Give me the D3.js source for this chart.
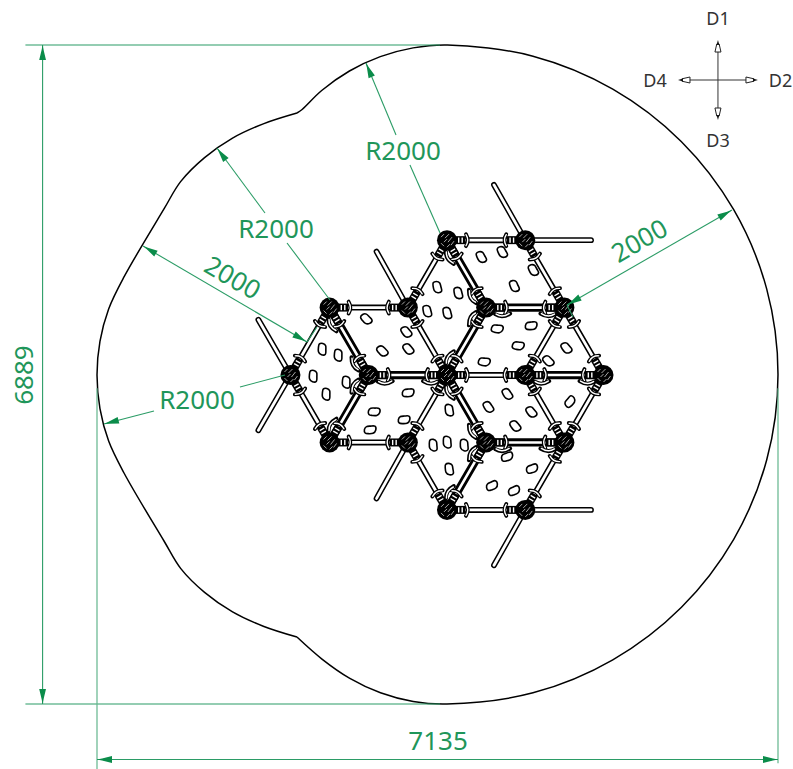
<!DOCTYPE html>
<html>
<head>
<meta charset="utf-8">
<script src="https://cdnjs.cloudflare.com/ajax/libs/d3/7.8.5/d3.min.js"></script>
<style>
html, body { margin: 0; padding: 0; background: #fff; overflow: hidden; }
svg { display: block; }
text { font-family: "Noto Sans", sans-serif; }
</style>
</head>
<body>
<svg id="plan" width="793" height="769"></svg>
<script>
// everything below is in mm on the plan
var planWidth = 7135;
var planHeight = 6889;

// safety zone outline, split at the two notches on the left
var outlineRight = [[2095, 6178], [2149, 6215], [2354, 6413], [2645, 6617], [2968, 6767], [3312, 6859], [3672, 6889],
    [4568, 6772], [5404, 6428], [6121, 5881], [6671, 5167], [7017, 4337], [7135, 3445], [7017, 2553], [6671, 1722],
    [6121, 1009], [5404, 462], [4568, 117], [3667, 0], [3313, 26], [2970, 117], [2649, 268], [2357, 470], [2095, 700]];
var outlineLeft = [[2095, 700], [1742, 813], [1420, 963], [1127, 1167], [876, 1418], [702, 1704], [283, 2415],
    [122, 2749], [31, 3089], [0, 3439], [31, 3790], [122, 4129], [283, 4464], [702, 5175], [876, 5461], [1127, 5712],
    [1420, 5916], [1742, 6065], [2095, 6178]];

// triangular lattice of the climbing frame
var latticeCentre = [3667, 3439];
var colMm = 410;
var rowMm = 705;

var nodes = [[0, 2], [2, 2], [-3, 1], [-1, 1], [1, 1], [3, 1], [-4, 0], [-2, 0], [0, 0], [2, 0], [4, 0],
    [-3, -1], [-1, -1], [1, -1], [3, -1], [0, -2], [2, -2]];
var thinBars = [[0, 2, 2, 2], [-3, 1, -1, 1], [0, 0, 2, 0], [-3, -1, -1, -1], [0, -2, 2, -2],
    [0, 2, -1, 1], [2, 2, 3, 1], [3, 1, 2, 0], [3, 1, 4, 0], [-1, 1, 0, 0], [-3, 1, -4, 0], [-4, 0, -3, -1],
    [0, 0, -1, -1], [2, 0, 3, -1], [4, 0, 3, -1], [3, -1, 2, -2], [-1, -1, 0, -2]];
var thickBars = [[1, 1, 3, 1], [-2, 0, 0, 0], [2, 0, 4, 0], [1, -1, 3, -1],
    [0, 2, 1, 1], [1, 1, 0, 0], [-3, 1, -2, 0], [-2, 0, -3, -1], [0, 0, 1, -1], [1, -1, 0, -2]];
// free ropes: start node, then end in lattice units
var rods = [[2, 2, 3.68, 2], [2, 2, 1.2, 2.82], [-1, 1, -1.8, 1.83], [-4, 0, -4.82, 0.82], [-4, 0, -4.82, -0.82],
    [-1, -1, -1.8, -1.83], [2, -2, 3.68, -2], [2, -2, 1.2, -2.82]];

// climbing holds: x, y, turn in degrees
var holds = [[4243, 4725, 60], [4023, 4673, 60], [4568, 4537, 60], [4369, 4370, 65],
    [3562, 4359, 75], [3782, 4297, 75], [3457, 4108, 75], [3667, 4088, 75],
    [2818, 4025, 45], [3237, 3889, 50], [2986, 3690, 45], [3258, 3711, 50],
    [2357, 3711, 90], [2525, 3648, 90], [2263, 3429, 90], [2609, 3366, 90], [2399, 3241, 90],
    [4547, 3952, -5], [4191, 3920, 5], [4411, 3743, 5], [4914, 3722, 50], [4725, 3586, 45], [4055, 3575, 5],
    [3258, 3251, -5], [2902, 3053, 0], [3216, 2969, -5], [2860, 2864, -5],
    [4296, 3241, 55], [4097, 3105, 55], [4547, 3053, 50], [4379, 2906, 50], [4956, 3157, -50], [3688, 3073, 80],
    [3520, 2708, 85], [3667, 2739, 85], [3845, 2708, 85], [3688, 2457, 80],
    [4296, 2582, -20], [4557, 2457, -20], [4138, 2279, -25], [4369, 2227, -25]];

// dimension lines: x1, y1, x2, y2, arrow at start, arrow at end
var dimLines = [
    [2818, 6701, 3133, 5948, 1, 0], [3279, 5635, 3594, 4924, 0, 0],
    [1257, 5812, 1760, 5133, 1, 0], [1991, 4819, 2441, 4223, 0, 0],
    [73, 2927, 597, 3063, 1, 0], [1498, 3314, 1970, 3439, 0, 0],
    [482, 4788, 2200, 3784, 1, 1], [4924, 4171, 6653, 5164, 1, 1],
    [2200, 3784, 2305, 3941, 0, 0], [4924, 4171, 4987, 4046, 0, 0],
    [-570, 0, -570, 6889, 1, 1], [0, -580, 7135, -580, 1, 1]];
// extension lines: x1, y1, x2, y2
var extLines = [[-750, 6889, 3594, 6889], [-750, 0, 3594, 0], [0, 3300, 0, -680], [7135, 3300, 7135, -620]];

var dimLabels = ["R2000", "R2000", "R2000", "2000", "2000", "7135", "6889"];
var dimLabelX = [3206, 1875, 1048, 1425, 5679, 3573, -775];
var dimLabelY = [5792, 4976, 3188, 4464, 4851, -376, 3439];
var dimLabelTurn = [0, 0, 0, 30, -30, 0, -90];

// compass
var compassCentre = [6506, 6523];
var compassArm = 419;
var compassLabels = ["D1", "D2", "D3", "D4"];
var compassLabelDist = [650, 655, 630, 660];

var x = d3.scaleLinear().domain([0, planWidth]).range([97, 778]);
var y = d3.scaleLinear().domain([0, planHeight]).range([704, 45]);

function latX(c) { return x(latticeCentre[0] + c * colMm); }
function latY(r) { return y(latticeCentre[1] + r * rowMm); }

var dimGreen = "#2b9c66";
var arrowGreen = "#0b8c4a";
var textGreen = "#1f965a";

var svg = d3.select("#plan");

var planLine = d3.line()
    .x(function (d) { return x(d[0]); })
    .y(function (d) { return y(d[1]); })
    .curve(d3.curveCatmullRom.alpha(0.5));

svg.selectAll("path.outline")
    .data([outlineRight, outlineLeft])
    .enter()
    .append("path")
    .attr("class", "outline")
    .attr("d", planLine)
    .attr("fill", "none")
    .attr("stroke", "#000")
    .attr("stroke-width", 1.5);

// rods behind the frame
var frame = svg.append("g");

function drawTube(sel, data, outer, inner) {
    sel.selectAll(null).data(data).enter().append("line")
        .attr("x1", function (d) { return latX(d[0]); })
        .attr("y1", function (d) { return latY(d[1]); })
        .attr("x2", function (d) { return latX(d[2]); })
        .attr("y2", function (d) { return latY(d[3]); })
        .attr("stroke", "#000")
        .attr("stroke-linecap", "round")
        .attr("stroke-width", outer);
    sel.selectAll(null).data(data).enter().append("line")
        .attr("x1", function (d) { return latX(d[0]); })
        .attr("y1", function (d) { return latY(d[1]); })
        .attr("x2", function (d) { return latX(d[2]); })
        .attr("y2", function (d) { return latY(d[3]); })
        .attr("stroke", "#fff")
        .attr("stroke-linecap", "round")
        .attr("stroke-width", inner);
}

drawTube(frame, rods, 5.8, 2.8);
drawTube(frame, thinBars, 6, 2.8);
drawTube(frame, thickBars, 8.2, 2.6);

// clamps at both bar ends, drawn along +x from the node
function barEnds(bars) {
    var ends = [];
    bars.forEach(function (b) {
        var ax = latX(b[0]), ay = latY(b[1]), bx = latX(b[2]), by = latY(b[3]);
        var a = Math.atan2(by - ay, bx - ax) * 180 / Math.PI;
        ends.push({ x: ax, y: ay, a: a, flip: 1 });
        ends.push({ x: bx, y: by, a: a + 180, flip: -1 });
    });
    return ends;
}

function drawClamps(data, hooked) {
    var g = frame.selectAll(null).data(data).enter().append("g")
        .attr("transform", function (d) { return "translate(" + d.x + "," + d.y + ") rotate(" + d.a + ")"; });
    g.append("rect").attr("x", 8).attr("y", -4).attr("width", 10.5).attr("height", 8).attr("fill", "#000");
    g.append("rect").attr("x", 11).attr("y", -2.6).attr("width", 1.4).attr("height", 5.2).attr("fill", "#fff");
    g.append("rect").attr("x", 14.5).attr("y", -2.6).attr("width", 1.4).attr("height", 5.2).attr("fill", "#fff");
    g.append("path").attr("d", "M19,-6 Q22.5,0 19,6")
        .attr("fill", "none").attr("stroke", "#000").attr("stroke-width", 3.8).attr("stroke-linecap", "round");
    g.append("path").attr("d", "M19,-5.5 Q22.5,0 19,5.5")
        .attr("fill", "none").attr("stroke", "#fff").attr("stroke-width", 1.4).attr("stroke-linecap", "round");
    if (hooked) {
        g.append("path")
            .attr("d", function (d) { return "M9," + 6.5 * d.flip + " Q16," + 11 * d.flip + " 24," + 6 * d.flip; })
            .attr("fill", "none").attr("stroke", "#000").attr("stroke-width", 4).attr("stroke-linecap", "round");
        g.append("path")
            .attr("d", function (d) { return "M10," + 6.5 * d.flip + " Q16," + 10.5 * d.flip + " 23," + 6 * d.flip; })
            .attr("fill", "none").attr("stroke", "#fff").attr("stroke-width", 1.5).attr("stroke-linecap", "round");
    }
}

drawClamps(barEnds(thinBars), false);
drawClamps(barEnds(thickBars), true);

// ball joints
var nodeG = frame.selectAll(null).data(nodes).enter().append("g")
    .attr("transform", function (d) { return "translate(" + latX(d[0]) + "," + latY(d[1]) + ")"; });
nodeG.append("circle").attr("r", 10).attr("fill", "#000");
[[-6, -3, -3, -6], [-2, -2, 2, -6], [1, 2, 5, -3], [-6, 3, -3, 6], [0, 7, 3, 4], [-3, 2, 0, -1], [4, 5, 7, 1]].forEach(function (m) {
    nodeG.append("line")
        .attr("x1", m[0]).attr("y1", m[1]).attr("x2", m[2]).attr("y2", m[3])
        .attr("stroke", "#bbb").attr("stroke-width", 0.9);
});

// holds
var blob = d3.line().curve(d3.curveBasisClosed)(
    [[-6, -1], [-3.5, -4.4], [1, -3.6], [6, -4.4], [6.4, 0.8], [3, 4.2], [-2, 3.4], [-5.6, 3.2]]);
svg.selectAll("path.hold")
    .data(holds)
    .enter()
    .append("path")
    .attr("class", "hold")
    .attr("d", blob)
    .attr("transform", function (d) { return "translate(" + x(d[0]) + "," + y(d[1]) + ") rotate(" + d[2] + ")"; })
    .attr("fill", "#fff")
    .attr("stroke", "#000")
    .attr("stroke-width", 1.6);

// dimensions
svg.selectAll("line.ext")
    .data(extLines)
    .enter()
    .append("line")
    .attr("class", "ext")
    .attr("x1", function (d) { return x(d[0]); })
    .attr("y1", function (d) { return y(d[1]); })
    .attr("x2", function (d) { return x(d[2]); })
    .attr("y2", function (d) { return y(d[3]); })
    .attr("stroke", function (d, i) { return i < 2 ? dimGreen : "#62b58c"; })
    .attr("stroke-width", 1.2);

svg.selectAll("line.dim")
    .data(dimLines)
    .enter()
    .append("line")
    .attr("class", "dim")
    .attr("x1", function (d) { return x(d[0]); })
    .attr("y1", function (d) { return y(d[1]); })
    .attr("x2", function (d) { return x(d[2]); })
    .attr("y2", function (d) { return y(d[3]); })
    .attr("stroke", dimGreen)
    .attr("stroke-width", 1.1);

var arrowPath = d3.line()([[0, 0], [5, -1], [15, -3.4], [15, 3.4], [5, 1]]) + "Z";
var arrowTips = [];
dimLines.forEach(function (d) {
    var ax = x(d[0]), ay = y(d[1]), bx = x(d[2]), by = y(d[3]);
    var a = Math.atan2(by - ay, bx - ax) * 180 / Math.PI;
    if (d[4]) arrowTips.push({ x: ax, y: ay, a: a });
    if (d[5]) arrowTips.push({ x: bx, y: by, a: a + 180 });
});
svg.selectAll("path.arrow")
    .data(arrowTips)
    .enter()
    .append("path")
    .attr("class", "arrow")
    .attr("d", arrowPath)
    .attr("transform", function (d) { return "translate(" + d.x + "," + d.y + ") rotate(" + d.a + ")"; })
    .attr("fill", arrowGreen);

svg.selectAll("text.dim")
    .data(dimLabels)
    .enter()
    .append("text")
    .attr("class", "dim")
    .attr("text-anchor", "middle")
    .attr("dominant-baseline", "central")
    .attr("font-size", 26)
    .attr("fill", textGreen)
    .attr("transform", function (d, i) {
        return "translate(" + x(dimLabelX[i]) + "," + y(dimLabelY[i]) + ") rotate(" + dimLabelTurn[i] + ")";
    })
    .text(function (d) { return d; });

// compass: D1 up, then clockwise
var compass = svg.append("g")
    .attr("transform", "translate(" + x(compassCentre[0]) + "," + y(compassCentre[1]) + ")");
var armLen = x(compassArm) - x(0);
var hollowHead = d3.line()([[armLen - 4, -1.2], [armLen - 12, -3], [armLen - 12, 3], [armLen - 4, 1.2]]) + "Z";
var darkTip = d3.line()([[armLen, 0], [armLen - 5, -1.4], [armLen - 5, 1.4]]) + "Z";
var arms = compass.selectAll("g")
    .data(compassLabels)
    .enter()
    .append("g");
arms.attr("transform", function (d, i) { return "rotate(" + (i * 90 - 90) + ")"; });
arms.append("line")
    .attr("x2", armLen - 5)
    .attr("stroke", "#333")
    .attr("stroke-width", 1);
arms.append("path")
    .attr("d", hollowHead)
    .attr("fill", "#fff")
    .attr("stroke", "#222")
    .attr("stroke-width", 1);
arms.append("path")
    .attr("d", darkTip)
    .attr("fill", "#111");
compass.selectAll("text")
    .data(compassLabels)
    .enter()
    .append("text")
    .attr("x", function (d, i) { return Math.sin(i * Math.PI / 2) * (x(compassLabelDist[i]) - x(0)); })
    .attr("y", function (d, i) { return -Math.cos(i * Math.PI / 2) * (x(compassLabelDist[i]) - x(0)); })
    .attr("text-anchor", "middle")
    .attr("dominant-baseline", "central")
    .attr("font-size", 18)
    .attr("fill", "#333")
    .text(function (d) { return d; });
</script>
</body>
</html>
